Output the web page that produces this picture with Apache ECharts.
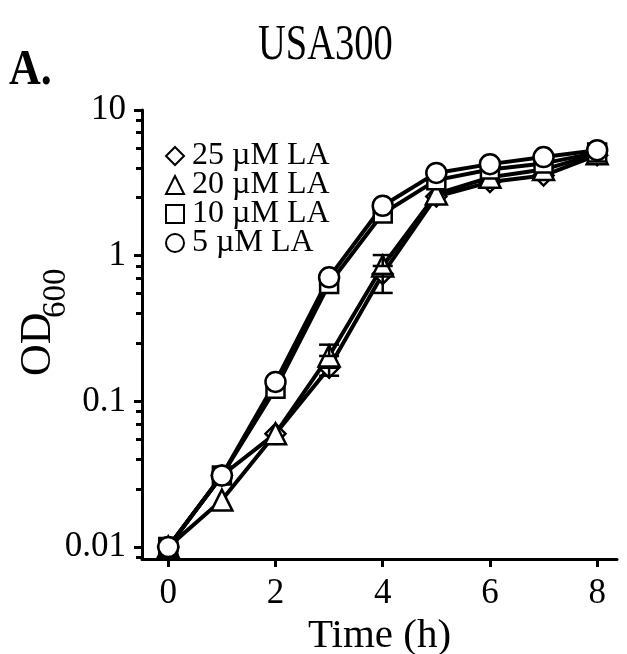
<!DOCTYPE html>
<html>
<head>
<meta charset="utf-8">
<script src="https://cdn.jsdelivr.net/npm/echarts@6/dist/echarts.min.js"></script>
<style>
  html, body { margin: 0; padding: 0; background: #fff; }
  #chart-usa300 { width: 627px; height: 654px; }
</style>
</head>
<body>
<div id="chart-usa300"></div>
<script>
// time points (h)
let timePoints = [0, 1, 2, 3, 4, 5, 6, 7, 8];
// OD600 per LA concentration
let od25 = [0.010, 0.031, 0.060, 0.170, 0.75, 2.55, 3.20, 3.55, 4.90];
let od20 = [0.010, 0.021, 0.060, 0.205, 0.85, 2.65, 3.45, 3.90, 5.00];
let od10 = [0.010, 0.031, 0.122, 0.64, 1.95, 3.30, 3.90, 4.30, 5.10];
let od5 = [0.010, 0.031, 0.136, 0.71, 2.20, 3.70, 4.25, 4.75, 5.30];
// error bars: [time, low, high]
let err25 = [[3, 0.150, 0.170], [4, 0.555, 0.75]];
let err20 = [[3, 0.205, 0.245], [4, 0.85, 1.01]];
let seriesNames = ['25 \u00b5M LA', '20 \u00b5M LA', '10 \u00b5M LA', '5 \u00b5M LA'];
let seriesSymbols = ['diamond', 'triangle', 'rect', 'circle'];
let xTicks = [0, 2, 4, 6, 8];
let yTicks = [0.01, 0.1, 1, 10];
let yMinorSteps = [2.5, 4, 5.5, 7, 8.5];

const FONT = 'Liberation Serif';
let yMin = -2.082, yMax = 1;

function lg(v) { return Math.log10(v); }

let yMinor = [];
[-3, -2, -1, 0].forEach(function (d) {
    yMinorSteps.forEach(function (k) {
        let v = lg(k) + d;
        if (v > yMin && v < yMax) yMinor.push(v);
    });
});

function lineSeries(name, symbol, values) {
    return {
        name: name,
        type: 'line',
        symbol: symbol,
        symbolSize: symbol === 'triangle' ? 21 : (symbol === 'rect' ? 18 : 20),
        lineStyle: { color: '#000', width: 4 },
        itemStyle: { color: '#fff', borderColor: '#000', borderWidth: 2.5 },
        data: timePoints.map(function (t, i) { return [t, lg(values[i])]; }),
        z: 3
    };
}

function errorSeries(rows) {
    return {
        type: 'custom',
        z: 4,
        silent: true,
        renderItem: function (params, api) {
            let top = api.coord([api.value(0), api.value(2)]);
            let bot = api.coord([api.value(0), api.value(1)]);
            let w = 10;
            let st = { stroke: '#000', lineWidth: 2.5 };
            return {
                type: 'group',
                children: [
                    { type: 'line', shape: { x1: top[0], y1: top[1], x2: bot[0], y2: bot[1] }, style: st },
                    { type: 'line', shape: { x1: top[0] - w, y1: top[1], x2: top[0] + w, y2: top[1] }, style: st },
                    { type: 'line', shape: { x1: bot[0] - w, y1: bot[1], x2: bot[0] + w, y2: bot[1] }, style: st }
                ]
            };
        },
        data: rows.map(function (r) { return [r[0], lg(r[1]), lg(r[2])]; })
    };
}

let chartDom = document.getElementById('chart-usa300');
let myChart = echarts.init(chartDom, null, { renderer: 'canvas' });
let option = {
    animation: false,
    backgroundColor: '#fff',
    textStyle: { fontFamily: FONT, color: '#000' },
    grid: { left: 142, right: 10, top: 110, bottom: 95, containLabel: false, outerBoundsMode: 'none' },
    legend: {
        orient: 'vertical',
        left: 160,
        top: 135,
        itemWidth: 18,
        itemHeight: 18,
        itemGap: -3,
        selectedMode: false,
        textStyle: { fontFamily: FONT, fontSize: 32, color: '#000', padding: [0, 0, 0, 3] },
        data: seriesNames.map(function (n, i) { return { name: n, icon: seriesSymbols[i] }; })
    },
    xAxis: {
        type: 'value',
        min: -0.49,
        max: 8.37,
        name: 'Time (h)',
        nameLocation: 'middle',
        nameGap: 47,
        nameTextStyle: { fontFamily: FONT, fontSize: 41, color: '#000' },
        splitLine: { show: false },
        axisLine: { onZero: false, lineStyle: { color: '#000', width: 3 } },
        axisTick: { customValues: xTicks, length: 8, lineStyle: { color: '#000', width: 3 } },
        axisLabel: { customValues: xTicks, fontFamily: FONT, fontSize: 35, color: '#000', margin: 17 }
    },
    yAxis: [
        {
            type: 'value',
            min: yMin,
            max: yMax,
            splitLine: { show: false },
            axisLine: { onZero: false, lineStyle: { color: '#000', width: 3 } },
            axisTick: { customValues: yTicks.map(lg), length: 8, lineStyle: { color: '#000', width: 3 } },
            axisLabel: {
                customValues: yTicks.map(lg),
                fontFamily: FONT, fontSize: 35, color: '#000', margin: 16,
                formatter: function (v) {
                    let p = Math.round(v);
                    return p >= 0 ? String(Math.pow(10, p)) : (Math.pow(10, p)).toFixed(-p);
                }
            }
        },
        {
            type: 'value',
            min: yMin,
            max: yMax,
            position: 'left',
            splitLine: { show: false },
            axisLine: { show: false, onZero: false },
            axisLabel: { show: false },
            axisTick: { customValues: yMinor, length: 6, lineStyle: { color: '#000', width: 3 } }
        }
    ],
    graphic: [
        { type: 'text', x: 258, y: 21, scaleX: 0.77, style: { text: 'USA300', font: '50px "Liberation Serif"', fill: '#000' } },
        { type: 'text', x: 9, y: 46, scaleX: 0.88, style: { text: 'A.', font: 'bold 50px "Liberation Serif"', fill: '#000' } },
        { type: 'text', x: 38, y: 376, rotation: Math.PI / 2, style: { text: 'OD', font: '44px "Liberation Serif"', fill: '#000', textAlign: 'left', textVerticalAlign: 'middle' } },
        { type: 'text', x: 56, y: 318, rotation: Math.PI / 2, style: { text: '600', font: '33px "Liberation Serif"', fill: '#000', textAlign: 'left', textVerticalAlign: 'middle' } }
    ],
    series: [
        lineSeries(seriesNames[0], seriesSymbols[0], od25),
        lineSeries(seriesNames[1], seriesSymbols[1], od20),
        lineSeries(seriesNames[2], seriesSymbols[2], od10),
        lineSeries(seriesNames[3], seriesSymbols[3], od5),
        errorSeries(err25),
        errorSeries(err20)
    ]
};
option && myChart.setOption(option);
</script>
</body>
</html>
